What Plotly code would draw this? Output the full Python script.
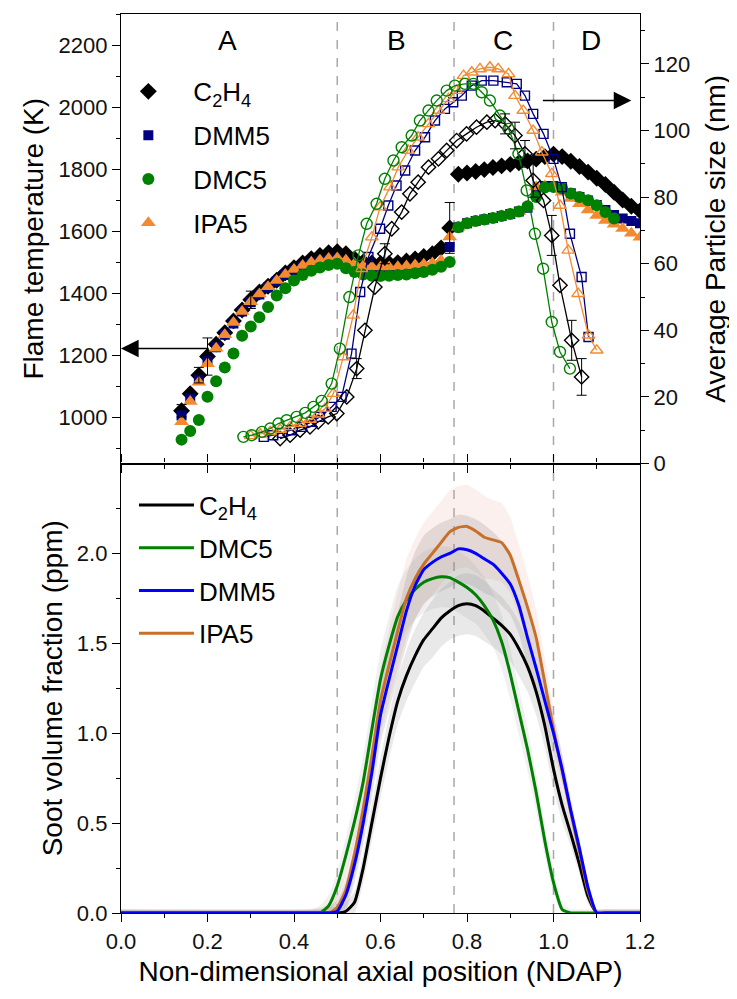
import plotly.graph_objects as go

FONT = "Liberation Sans, Arial, sans-serif"

# ---------------- Top panel: flame temperature (filled markers, left axis) ----------------
t_x = [0.14, 0.16, 0.18, 0.20, 0.22, 0.24, 0.26, 0.28, 0.30, 0.32, 0.34, 0.36, 0.38, 0.40, 0.42,
       0.44, 0.46, 0.48, 0.50, 0.52, 0.54, 0.56, 0.58, 0.60, 0.62, 0.64, 0.66, 0.68, 0.70, 0.72,
       0.74, 0.76, 0.78, 0.80, 0.82, 0.84, 0.86, 0.88, 0.90, 0.92, 0.94, 0.96, 0.98, 1.00, 1.02,
       1.04, 1.06, 1.08, 1.10, 1.12, 1.14, 1.16, 1.18, 1.20]

t_c2h4 = [1020, 1075, 1135, 1195, 1235, 1272, 1310, 1345, 1378, 1403, 1422, 1441, 1465, 1482, 1497,
          1511, 1521, 1530, 1533, 1527, 1510, 1500, 1497, 1495, 1495, 1498, 1503, 1510, 1518, 1527,
          1545, 1610, 1783, 1787, 1792, 1798, 1805, 1810, 1815, 1820, 1826, 1832, 1840, 1848, 1840,
          1825, 1808, 1790, 1770, 1750, 1725, 1700, 1680, 1665]
t_dmm5 = [1005, 1060, 1120, 1180, 1225, 1265, 1302, 1340, 1370, 1395, 1418, 1438, 1458, 1472, 1485,
          1495, 1502, 1506, 1508, 1498, 1485, 1476, 1472, 1470, 1470, 1470, 1472, 1475, 1478, 1483,
          1490, 1548, 1612, 1625, 1632, 1637, 1642, 1648, 1655, 1663, 1675, 1725, 1745, 1745, 1735,
          1722, 1710, 1698, 1684, 1668, 1652, 1640, 1632, 1625]
t_dmc5 = [927, 955, 990, 1065, 1115, 1160, 1205, 1262, 1292, 1322, 1355, 1392, 1415, 1440, 1458,
          1472, 1482, 1490, 1494, 1480, 1468, 1460, 1456, 1455, 1456, 1458, 1460, 1464, 1468, 1475,
          1485, 1500, 1612, 1625, 1632, 1637, 1642, 1648, 1655, 1663, 1680, 1710, 1740, 1742, 1737,
          1721, 1710, 1699, 1683, 1661, 1640]
t_ipa5 = [985, 1050, 1112, 1172, 1222, 1265, 1305, 1340, 1372, 1397, 1420, 1440, 1460, 1476, 1489,
          1499, 1506, 1511, 1513, 1506, 1495, 1488, 1485, 1484, 1484, 1485, 1487, 1490, 1493, 1497,
          1505, 1581, 1612, 1625, 1632, 1637, 1642, 1648, 1655, 1663, 1680, 1742, 1745, 1740, 1725,
          1705, 1688, 1668, 1650, 1634, 1622, 1608, 1593, 1580]

t_c2h4_err_x = [0.14, 0.18, 0.20, 0.30, 0.76]
t_c2h4_err = [20, 25, 60, 28, 82]

# ---------------- Top panel: particle size (open markers, right axis) ----------------
ps_c2h4_x = [0.368, 0.391, 0.414, 0.437, 0.456, 0.479, 0.499, 0.522, 0.545, 0.564, 0.587, 0.61,
             0.626, 0.649, 0.668, 0.687, 0.711, 0.734, 0.753, 0.776, 0.799, 0.822, 0.846, 0.865,
             0.888, 0.911, 0.934, 0.953, 0.977, 0.996, 1.015, 1.042, 1.065]
ps_c2h4 = [7.5, 8.5, 10, 11, 12.5, 14, 15, 20, 28.5, 40, 53, 63, 70.5, 75.5, 81, 84.5, 89, 91.5,
           94, 97, 99, 101, 102.5, 103, 102, 98.5, 93, 85, 79, 68.5, 53.5, 37, 26]
ps_c2h4_err_x = [0.545, 0.61, 0.888, 0.911, 0.934, 0.953, 0.996, 1.042, 1.065]
ps_c2h4_err = [3, 3, 3, 4, 4, 5, 6, 6, 5.5]

ps_dmm5_x = [0.33, 0.352, 0.372, 0.395, 0.418, 0.44, 0.46, 0.487, 0.51, 0.533, 0.553, 0.572, 0.599,
             0.618, 0.637, 0.657, 0.68, 0.703, 0.726, 0.749, 0.768, 0.788, 0.811, 0.834, 0.861,
             0.892, 0.915, 0.934, 0.953, 0.977, 1.0, 1.019, 1.038, 1.065, 1.081]
ps_dmm5 = [8, 8.5, 9.2, 10, 11, 12.5, 14, 17, 20, 33, 51.5, 62, 70.5, 77.5, 83.5, 88, 94, 98, 103,
           106.5, 108.5, 110.5, 113.5, 115, 115, 114.5, 114, 110.5, 105, 99, 91.5, 83, 69, 56, 38]

ps_dmc5_x = [0.283, 0.302, 0.326, 0.345, 0.364, 0.383, 0.406, 0.426, 0.445, 0.464, 0.487, 0.506,
             0.528, 0.549, 0.568, 0.591, 0.61, 0.63, 0.649, 0.672, 0.691, 0.711, 0.73, 0.753, 0.772,
             0.795, 0.815, 0.834, 0.853, 0.876, 0.896, 0.919, 0.938, 0.957, 0.976, 0.996, 1.015, 1.038]
ps_dmc5 = [8, 8.5, 9.5, 10.5, 12, 13, 14, 15.2, 17, 18.8, 24, 34.5, 50, 62.5, 72, 78, 85.5, 91, 95,
           98.5, 103, 106, 109, 112, 113.5, 114, 114, 111.5, 109, 104.5, 100.5, 93, 82, 69, 58.5,
           42.5, 33.5, 28.5]

ps_ipa5_x = [0.30, 0.322, 0.345, 0.368, 0.391, 0.414, 0.437, 0.456, 0.472, 0.491, 0.514, 0.537,
             0.556, 0.58, 0.599, 0.622, 0.641, 0.664, 0.687, 0.711, 0.734, 0.757, 0.776, 0.792,
             0.811, 0.83, 0.853, 0.872, 0.896, 0.911, 0.93, 0.953, 0.973, 0.996, 1.015, 1.034,
             1.057, 1.081, 1.1]
ps_ipa5 = [8.3, 8.8, 9.5, 10.2, 11, 12, 13.2, 14.8, 16.5, 21, 32, 44.5, 58.5, 68, 77, 83, 89, 94,
           98, 102, 106, 109.5, 112, 116.5, 117.5, 118.5, 119, 118.5, 117, 110.5, 106, 100, 93.5,
           87, 77.5, 64, 51, 38.5, 34]

# ---------------- Bottom panel: soot volume fraction ----------------
sv_x = [0.0, 0.44, 0.46, 0.48, 0.50, 0.52, 0.54, 0.56, 0.58, 0.60, 0.62, 0.64, 0.66, 0.68, 0.70,
        0.72, 0.74, 0.76, 0.78, 0.80, 0.82, 0.84, 0.86, 0.88, 0.90, 0.92, 0.94, 0.96, 0.98, 1.00,
        1.02, 1.04, 1.06, 1.08, 1.10, 1.12, 1.2]
sv_c2h4 = [0, 0, 0, 0, 0, 0.01, 0.06, 0.25, 0.5, 0.75, 0.98, 1.18, 1.32, 1.43, 1.52, 1.58, 1.64,
           1.68, 1.71, 1.72, 1.71, 1.68, 1.64, 1.60, 1.55, 1.47, 1.37, 1.23, 1.04, 0.80, 0.60, 0.44,
           0.27, 0.09, 0, 0, 0]
sv_dmc5 = [0, 0, 0, 0.04, 0.15, 0.32, 0.51, 0.73, 1.02, 1.30, 1.49, 1.65, 1.74, 1.80, 1.84, 1.86,
           1.87, 1.865, 1.84, 1.81, 1.77, 1.71, 1.63, 1.51, 1.33, 1.12, 0.91, 0.67, 0.40, 0.17, 0.02,
           0, 0, 0, 0, 0, 0]
sv_dmm5 = [0, 0, 0, 0, 0.01, 0.10, 0.27, 0.50, 0.78, 1.10, 1.30, 1.49, 1.68, 1.82, 1.91, 1.95, 1.98,
           2.00, 2.025, 2.02, 2.00, 1.97, 1.94, 1.89, 1.83, 1.71, 1.53, 1.36, 1.18, 1.00, 0.80, 0.57,
           0.36, 0.14, 0, 0, 0]
sv_ipa5 = [0, 0, 0, 0, 0.03, 0.13, 0.33, 0.58, 0.87, 1.18, 1.38, 1.57, 1.75, 1.86, 1.94, 2.00, 2.06,
           2.12, 2.145, 2.15, 2.125, 2.09, 2.075, 2.06, 1.99, 1.85, 1.70, 1.53, 1.28, 1.02, 0.79, 0.56,
           0.34, 0.12, 0, 0, 0]
# uncertainty half-widths of the shaded bands
sv_c2h4_err = [0.02, 0.02, 0.02, 0.03, 0.04, 0.05, 0.06, 0.08, 0.10, 0.11, 0.12, 0.13, 0.14, 0.15,
               0.15, 0.16, 0.16, 0.16, 0.17, 0.17, 0.17, 0.17, 0.16, 0.16, 0.15, 0.15, 0.14, 0.13,
               0.12, 0.11, 0.09, 0.07, 0.05, 0.04, 0.02, 0.02, 0.02]
sv_dmc5_err = [0.02, 0.02, 0.04, 0.06, 0.08, 0.10, 0.12, 0.14, 0.15, 0.16, 0.16, 0.17, 0.17, 0.17,
               0.17, 0.17, 0.17, 0.17, 0.17, 0.17, 0.16, 0.16, 0.15, 0.15, 0.14, 0.13, 0.12, 0.10,
               0.08, 0.06, 0.04, 0.02, 0.02, 0.02, 0.02, 0.02, 0.02]
sv_dmm5_err = [0.02, 0.02, 0.02, 0.04, 0.06, 0.08, 0.10, 0.12, 0.14, 0.16, 0.17, 0.18, 0.19, 0.19,
               0.19, 0.19, 0.19, 0.19, 0.19, 0.19, 0.19, 0.19, 0.18, 0.18, 0.17, 0.16, 0.15, 0.14,
               0.12, 0.10, 0.08, 0.06, 0.05, 0.03, 0.02, 0.02, 0.02]
sv_ipa5_err = [0.02, 0.02, 0.03, 0.05, 0.08, 0.10, 0.12, 0.14, 0.16, 0.18, 0.20, 0.21, 0.22, 0.22,
               0.23, 0.23, 0.23, 0.23, 0.23, 0.23, 0.23, 0.23, 0.22, 0.22, 0.21, 0.20, 0.18, 0.16,
               0.14, 0.12, 0.10, 0.08, 0.06, 0.04, 0.02, 0.02, 0.02]

zone_labels = ["A", "B", "C", "D"]
zone_label_x = [0.247, 0.638, 0.883, 1.087]
zone_bounds = [0.5, 0.77, 1.0]

BLACK = "#000000"
NAVY = "#000080"
GREEN = "#008000"
ORANGE = "#F28A30"
BLUE = "#0000FF"
BROWN = "#C8702A"

fig = go.Figure()

# ---- temperature (filled) ----
temp_series = [
    ("C<sub>2</sub>H<sub>4</sub>", t_x, t_c2h4, BLACK, "diamond", 13, 1),
    ("DMM5", t_x, t_dmm5, NAVY, "square", 10, 2),
    ("IPA5", t_x, t_ipa5, ORANGE, "triangle-up", 13, 4),
    ("DMC5", t_x[:len(t_dmc5)], t_dmc5, GREEN, "circle", 12, 3),
]
for name, xs, ys, col, sym, size, rank in temp_series:
    fig.add_trace(go.Scatter(
        x=xs, y=ys, mode="markers", name=name, legend="legend", legendrank=rank,
        legendgroup=name,
        marker=dict(symbol=sym, size=size, color=col, line=dict(width=0)),
        xaxis="x", yaxis="y"))

err_y_vals = [t_c2h4[t_x.index(v)] for v in t_c2h4_err_x]
fig.add_trace(go.Scatter(
    x=t_c2h4_err_x, y=err_y_vals, mode="markers", showlegend=False,
    marker=dict(size=1, color="rgba(0,0,0,0)"),
    error_y=dict(type="data", array=t_c2h4_err, color=BLACK, thickness=1, width=5),
    xaxis="x", yaxis="y"))

# ---- particle size (open) ----
ps_series = [
    (ps_c2h4_x, ps_c2h4, BLACK, "diamond-open", 11),
    (ps_dmm5_x, ps_dmm5, NAVY, "square-open", 9),
    (ps_ipa5_x, ps_ipa5, ORANGE, "triangle-up-open", 11),
    (ps_dmc5_x, ps_dmc5, GREEN, "circle-open", 11),
]
for xs, ys, col, sym, size in ps_series:
    fig.add_trace(go.Scatter(
        x=xs, y=ys, mode="lines+markers", showlegend=False,
        line=dict(color=col, width=1.3),
        marker=dict(symbol=sym, size=size, color=col, line=dict(width=1.4, color=col)),
        xaxis="x", yaxis="y3"))

ps_err_y = [ps_c2h4[ps_c2h4_x.index(v)] for v in ps_c2h4_err_x]
fig.add_trace(go.Scatter(
    x=ps_c2h4_err_x, y=ps_err_y, mode="markers", showlegend=False,
    marker=dict(size=1, color="rgba(0,0,0,0)"),
    error_y=dict(type="data", array=ps_c2h4_err, color=BLACK, thickness=1, width=5),
    xaxis="x", yaxis="y3"))

# ---- soot bands ----
bands = [
    (sv_ipa5, sv_ipa5_err, "rgba(230,160,150,0.16)"),
    (sv_dmm5, sv_dmm5_err, "rgba(110,95,95,0.16)"),
    (sv_dmc5, sv_dmc5_err, "rgba(150,150,150,0.14)"),
    (sv_c2h4, sv_c2h4_err, "rgba(120,120,120,0.16)"),
]
for vals, errs, fc in bands:
    upper = [v + e for v, e in zip(vals, errs)]
    lower = [max(0.0, v - e) for v, e in zip(vals, errs)]
    fig.add_trace(go.Scatter(x=sv_x, y=upper, mode="lines", line=dict(width=0, shape="spline", smoothing=0.5),
                             showlegend=False, hoverinfo="skip", xaxis="x2", yaxis="y2"))
    fig.add_trace(go.Scatter(x=sv_x, y=lower, mode="lines", line=dict(width=0, shape="spline", smoothing=0.5),
                             fill="tonexty", fillcolor=fc, showlegend=False, hoverinfo="skip",
                             xaxis="x2", yaxis="y2"))

soot_series = [
    ("C<sub>2</sub>H<sub>4</sub>", sv_c2h4, BLACK, 1),
    ("DMC5", sv_dmc5, GREEN, 2),
    ("IPA5", sv_ipa5, BROWN, 4),
    ("DMM5", sv_dmm5, BLUE, 3),
]
for name, vals, col, rank in soot_series:
    fig.add_trace(go.Scatter(
        x=sv_x, y=vals, mode="lines", name=name, legend="legend2", legendrank=rank,
        legendgroup="s" + name,
        line=dict(color=col, width=3, shape="spline", smoothing=0.5),
        xaxis="x2", yaxis="y2"))

# ---- shapes: zone boundaries ----
shapes = []
for b in zone_bounds:
    shapes.append(dict(type="line", xref="x", yref="paper", x0=b, x1=b, y0=0, y1=1,
                       line=dict(color="#A8A8A8", width=1.5, dash="dash"), layer="below"))

annotations = []
for lab, lx in zip(zone_labels, zone_label_x):
    annotations.append(dict(x=lx, y=0.971, xref="x", yref="paper", text=lab, showarrow=False,
                            yanchor="middle", xanchor="center",
                            font=dict(size=28, color="black", family=FONT)))
# arrows pointing to axes
annotations.append(dict(x=0.0, y=1221, xref="x", yref="y", ax=0.206, ay=1221, axref="x", ayref="y",
                        text="", showarrow=True, arrowhead=2, arrowsize=2.2, arrowwidth=1.6,
                        arrowcolor="black"))
annotations.append(dict(x=1.18, y=109, xref="x", yref="y3", ax=0.972, ay=109, axref="x", ayref="y3",
                        text="", showarrow=True, arrowhead=2, arrowsize=2.2, arrowwidth=1.6,
                        arrowcolor="black"))

tickfont = dict(size=22, color="#111", family=FONT)
titlefont = dict(size=28, color="black", family=FONT)
axline = dict(showline=True, linecolor="black", linewidth=1.3, showgrid=False, zeroline=False,
              ticks="outside", tickcolor="black", tickwidth=1.3)

fig.update_layout(
    width=729, height=991,
    margin=dict(l=113, r=97, t=6, b=86),
    paper_bgcolor="white", plot_bgcolor="rgba(0,0,0,0)",
    font=dict(family=FONT, color="black"),
    shapes=shapes, annotations=annotations,
    xaxis=dict(domain=[0, 1], anchor="y", range=[0, 1.2], dtick=0.2, ticklen=8,
               showticklabels=False, mirror=True,
               minor=dict(dtick=0.1, ticklen=4, ticks="outside", tickcolor="black"), **axline),
    yaxis=dict(domain=[0.5, 1], anchor="x", range=[850, 2300], dtick=200, tick0=0, ticklen=8,
               tickfont=tickfont, title=dict(text="Flame temperature (K)", font=titlefont, standoff=6),
               minor=dict(dtick=100, ticklen=4, ticks="outside", tickcolor="black"), **axline),
    yaxis3=dict(overlaying="y", side="right", anchor="x", range=[0, 135], dtick=20, ticklen=8,
                tickfont=tickfont,
                title=dict(text="Average Particle size (nm)", font=titlefont, standoff=16),
                minor=dict(dtick=10, ticklen=4, ticks="outside", tickcolor="black"), **axline),
    xaxis2=dict(domain=[0, 1], anchor="y2", range=[0, 1.2], dtick=0.2, ticklen=8, tickformat=".1f",
                tickfont=tickfont, mirror="ticks",
                title=dict(text="Non-dimensional axial position (NDAP)", font=titlefont, standoff=8),
                minor=dict(dtick=0.1, ticklen=4, ticks="outside", tickcolor="black"), **axline),
    yaxis2=dict(domain=[0, 0.5], anchor="x2", range=[0, 2.5], tickvals=[0, 0.5, 1.0, 1.5, 2.0],
                tickformat=".1f", ticklen=8, tickfont=tickfont, mirror=True,
                title=dict(text="Soot volume fraction (ppm)", font=titlefont, standoff=6),
                minor=dict(tickvals=[0.25, 0.75, 1.25, 1.75, 2.25], ticklen=4, ticks="outside",
                           tickcolor="black"), **axline),
    legend=dict(x=-0.034, y=0.94, xanchor="left", yanchor="top", font=dict(size=26, family=FONT),
                bgcolor="rgba(0,0,0,0)", itemwidth=80, tracegroupgap=7, traceorder="grouped"),
    legend2=dict(x=0.025, y=0.48, xanchor="left", yanchor="top", font=dict(size=26, family=FONT),
                 bgcolor="rgba(0,0,0,0)", itemwidth=55, tracegroupgap=6, traceorder="grouped"),
)

fig.write_html("out.html")
